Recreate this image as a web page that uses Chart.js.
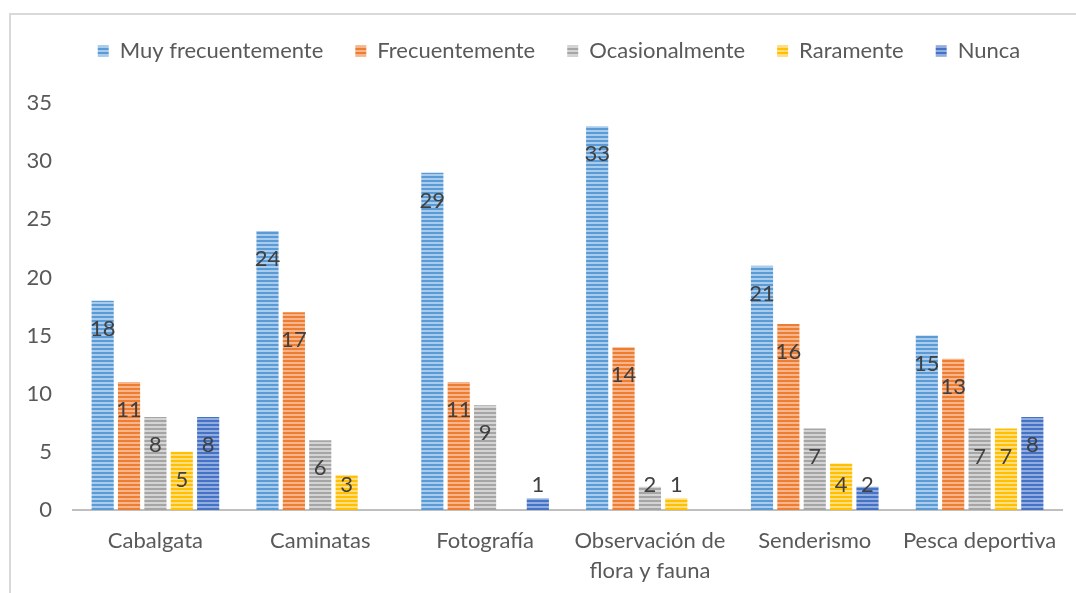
<!DOCTYPE html>
<html>
<head>
<meta charset="utf-8">
<script src="https://cdn.jsdelivr.net/npm/chart.js@4.4.1/dist/chart.umd.min.js"></script>
<style>
  html, body { margin: 0; padding: 0; background: #fff; overflow: hidden; }
  #wrap { position: relative; width: 1076px; height: 593px; }
  #frame { position: absolute; left: 9px; top: 13px; width: 1200px; height: 700px;
           border-left: 2px solid #d9d9d9; border-top: 2px solid #d9d9d9; pointer-events: none; }
</style>
</head>
<body>
<div id="wrap">
  <canvas id="myChart" width="1076" height="593"></canvas>
  <div id="frame"></div>
</div>
<script>
const categories = ['Cabalgata', 'Caminatas', 'Fotografía', ['Observación de', 'flora y fauna'], 'Senderismo', 'Pesca deportiva'];
const seriesNames = ['Muy frecuentemente', 'Frecuentemente', 'Ocasionalmente', 'Raramente', 'Nunca'];
const muyFrecuente = [18, 24, 29, 33, 21, 15];
const frecuente = [11, 17, 11, 14, 16, 13];
const ocasional = [8, 6, 9, 2, 7, 7];
const raramente = [5, 3, 0, 1, 4, 7];
const nunca = [8, 0, 1, 0, 2, 8];
const yTicks = [0, 5, 10, 15, 20, 25, 30, 35];

const colors = ['#5b9bd5', '#ed7d31', '#a5a5a5', '#ffc000', '#4472c4'];
const lightColors = ['#a9cbec', '#f6b58c', '#d4d4d4', '#ffdd80', '#93ace0'];

// horizontal stripes like the Excel fill
function stripes(dark, light) {
  const c = document.createElement('canvas');
  c.width = 4; c.height = 4;
  const g = c.getContext('2d');
  g.fillStyle = dark; g.fillRect(0, 0, 4, 2);
  g.fillStyle = light; g.fillRect(0, 2, 4, 2);
  return g.createPattern(c, 'repeat');
}

const values = [muyFrecuente, frecuente, ocasional, raramente, nunca];

const labelPlugin = {
  id: 'barLabels',
  beforeInit(chart) {
    const lg = chart.legend;
    if (lg) {
      const orig = lg.fit;
      lg.fit = function () { orig.call(this); this.height = 95; };
    }
  },
  afterLayout(chart) {
    // legend sits a bit right of centre in the original
    const lg = chart.legend;
    if (lg) { lg.left += 19; lg.right += 19; }
  },
  afterDatasetsDraw(chart) {
    const ctx = chart.ctx;
    ctx.save();
    ctx.font = '22px Lato';
    ctx.fillStyle = '#404040';
    ctx.textAlign = 'center';
    ctx.textBaseline = 'middle';
    chart.data.datasets.forEach((ds, i) => {
      chart.getDatasetMeta(i).data.forEach((bar, j) => {
        const v = ds.data[j];
        if (!v) return;
        const y = Math.min(bar.y + 28, bar.base - 25);
        ctx.fillText(String(v), bar.x, y);
      });
    });
    ctx.restore();
  }
};

const ctx = document.getElementById('myChart');
const chart = new Chart(ctx, {
  type: 'bar',
  data: {
    labels: categories,
    datasets: seriesNames.map((name, i) => ({
      label: name,
      data: values[i],
      backgroundColor: stripes(colors[i], lightColors[i]),
      borderWidth: 0,
      categoryPercentage: 0.8,
      barPercentage: 0.84
    }))
  },
  options: {
    responsive: false,
    animation: false,
    maintainAspectRatio: false,
    layout: { padding: { top: 8, left: 18, right: 14, bottom: 0 } },
    plugins: {
      tooltip: { enabled: false },
      legend: {
        position: 'top',
        labels: {
          boxWidth: 11,
          boxHeight: 11,
          padding: 32,
          color: '#595959',
          font: { family: 'Lato', size: 22 }
        }
      }
    },
    scales: {
      x: {
        grid: { display: false },
        border: { color: '#bfbfbf', width: 2 },
        afterFit(scale) { scale.height = 83; scale.paddingLeft = 0; scale.paddingRight = 0; },
        ticks: {
          color: '#595959',
          padding: 8,
          maxRotation: 0,
          autoSkip: false,
          font: { family: 'Lato', size: 22, lineHeight: 1.35 }
        }
      },
      y: {
        min: 0,
        max: 35,
        afterBuildTicks(scale) { scale.ticks = yTicks.map(v => ({ value: v })); },
        afterFit(scale) { scale.width = 55; },
        grid: { display: false },
        border: { display: false },
        ticks: {
          color: '#595959',
          padding: 13,
          font: { family: 'Lato', size: 22 }
        }
      }
    }
  },
  plugins: [labelPlugin]
});
</script>
</body>
</html>
